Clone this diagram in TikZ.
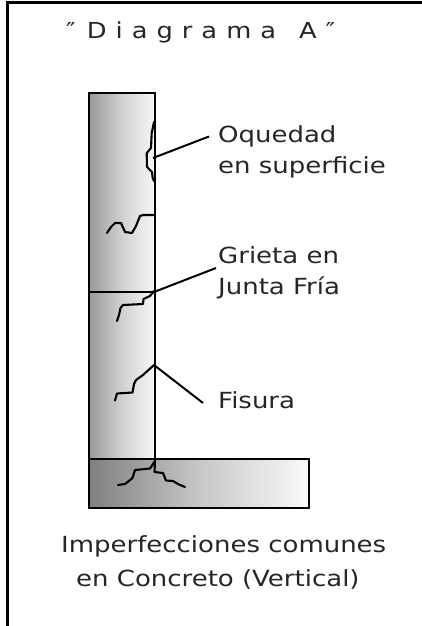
\documentclass[tikz,border=0pt]{standalone}
\usepackage{fontspec}
\setmainfont[FakeStretch=1.17]{DejaVu Sans}
\tikzset{
  wall/.style={draw=black,line width=2.5pt,outer sep=0pt},
  crack/.style={draw=black,line width=2.1pt,line join=round,line cap=round},
  leader/.style={draw=black,line width=2pt},
  lab/.style={inner sep=0pt,anchor=base west,align=left,font=\fontsize{22.2}{22.2}\selectfont,text=black!85}
}
\begin{document}
\begin{tikzpicture}[x=1pt,y=-1pt]
\useasboundingbox (0,0) rectangle (422,626);
\fill[white] (0,0) rectangle (422,626);
\draw[black,line width=2.6pt] (7.5,626) -- (7.5,2.7) -- (422,2.7);
% column
\path[left color=black!40,right color=black!3,middle color=black!18] (89,93) rectangle (155,459);
\path[left color=black!50,right color=black!2,middle color=black!22] (89,459) rectangle (309,508);
\node[wall,minimum width=66pt,minimum height=366pt,inner sep=0pt,anchor=north west] (col) at (89,93) {};
\node[wall,minimum width=220pt,minimum height=49pt,inner sep=0pt,anchor=north west] (base) at (89,459) {};
\draw[black,line width=2.1pt] (89,292) -- (155,292);
% texts
\node[inner sep=0pt,anchor=base west,font=\fontsize{22}{22}\selectfont,text=black!85] (title) at (66,39) {\char"2033\hspace{11pt}D\hspace{9pt}i\hspace{9pt}a\hspace{9pt}g\hspace{9pt}r\hspace{9pt}a\hspace{9pt}m\hspace{9pt}a\hspace{23pt}A\hspace{9pt}\char"2033};
\node[lab] (oq) at (218,142) {Oquedad};
\node[lab] (sup) at (218,173) {en superficie};
\node[lab] (gr) at (218,263) {Grieta en};
\node[lab] (ju) at (218,294) {Junta Fría};
\node[lab] (fi) at (218,408) {Fisura};
\node[lab] (im) at (61,552) {Imperfecciones comunes};
\node[lab] (co) at (76,586) {en Concreto (Vertical)};
% leaders
\coordinate (a1) at (153,158);
\coordinate (a2) at (154,292);
\coordinate (a3) at (154,365);
\draw[leader] (209,136.5) -- (a1);
\draw[leader] (216,268) -- (a2);
\draw[leader] (203,403) -- (a3);
% cracks
\draw[crack] (154,122) -- (151.7,133) -- (151,148) -- (146.7,153) -- (147,167) -- (152,172) -- (152.7,178) -- (154,181);
\draw[crack] (107,233) -- (111,227) -- (115,223) -- (121,223) -- (125,232) -- (132,233) -- (136,226) -- (140,216) -- (143,215) -- (155,215);
\draw[crack] (117,321) -- (119,315) -- (120.5,308) -- (123,305) -- (143,304) -- (143.5,299) -- (150,296) -- (154,291);
\draw[crack] (115,400.5) -- (117,393.5) -- (132.5,392.5) -- (134,384) -- (136,380) -- (143,375) -- (154,365);
\draw[crack] (118,485) -- (125,484) -- (132.5,478) -- (135,470) -- (150,468.5) -- (155,461);
\draw[crack] (155,461) -- (154.5,472) -- (163,473) -- (166,480.5) -- (173,481) -- (178,484) -- (185,487);
\end{tikzpicture}
\end{document}
